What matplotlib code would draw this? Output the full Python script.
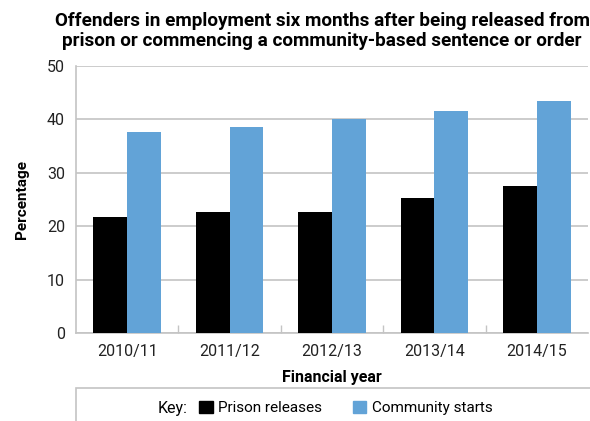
import matplotlib.pyplot as plt
import numpy as np
from matplotlib.patches import Patch, Rectangle

years = ['2010/11', '2011/12', '2012/13', '2013/14', '2014/15']
prison_releases = [21.8, 22.7, 22.6, 25.2, 27.6]
community_starts = [37.6, 38.6, 40.0, 41.5, 43.4]

BLUE = '#62a3d7'
GRID = '#c4c4c4'

plt.rcParams['font.family'] = 'Roboto'

fig = plt.figure(figsize=(5.9, 4.21), dpi=100)
ax = fig.add_axes([76 / 590, 1 - 333 / 421, 512 / 590, 267 / 421])

x = np.arange(len(years))
w = 0.33
ax.bar(x - w / 2, prison_releases, w, color='black', zorder=3)
ax.bar(x + w / 2, community_starts, w, color=BLUE, zorder=3)

ax.set_xlim(-0.5, len(years) - 0.5)
ax.set_ylim(0, 50)
ax.set_yticks(range(0, 51, 10))
ax.yaxis.grid(True, color=GRID, linewidth=1.2, zorder=0)

# category separators as small upward ticks on the x axis
ax.set_xticks(x)
ax.set_xticklabels(years, fontsize=11.5, color='#222222')
ax.tick_params(axis='x', length=0, pad=8)
ax.set_xticks(np.arange(0.5, len(years) - 0.5), minor=True)
ax.tick_params(axis='x', which='minor', direction='in', length=6, color=GRID, width=1)
ax.tick_params(axis='y', length=0, pad=8, labelsize=11.5, labelcolor='#222222')

for side in ['top', 'right']:
    ax.spines[side].set_visible(False)
for side in ['left', 'bottom']:
    ax.spines[side].set_color(GRID)
    ax.spines[side].set_linewidth(1.2)

ax.set_ylabel('Percentage', fontsize=11, fontweight='bold', labelpad=13)
ax.set_xlabel('Financial year', fontsize=11.5, fontweight='bold', labelpad=8)

fig.text(0.546, 0.972,
         'Offenders in employment six months after being released from\n'
         'prison or commencing a community-based sentence or order',
         ha='center', va='top', fontsize=13.6, fontweight='bold', linespacing=1.15)

# key box along the bottom
box = Rectangle((76 / 590, -0.05), 0.9, 1 - 388 / 421 + 0.05, transform=fig.transFigure,
                facecolor='none', edgecolor=GRID, linewidth=1.2)
fig.add_artist(box)
fig.text(158 / 590, 1 - 408 / 421, 'Key:', fontsize=11.5, va='center', ha='left')
handles = [Patch(color='black', label='Prison releases'),
           Patch(color=BLUE, label='Community starts')]
fig.legend(handles=handles, ncol=2, frameon=False, fontsize=11,
           loc='center left', bbox_to_anchor=(199 / 590, 1 - 408 / 421),
           handlelength=0.9, handleheight=0.9, handletextpad=0.35, columnspacing=2.0,
           borderpad=0, borderaxespad=0)

fig.savefig('out.png', dpi=100)
